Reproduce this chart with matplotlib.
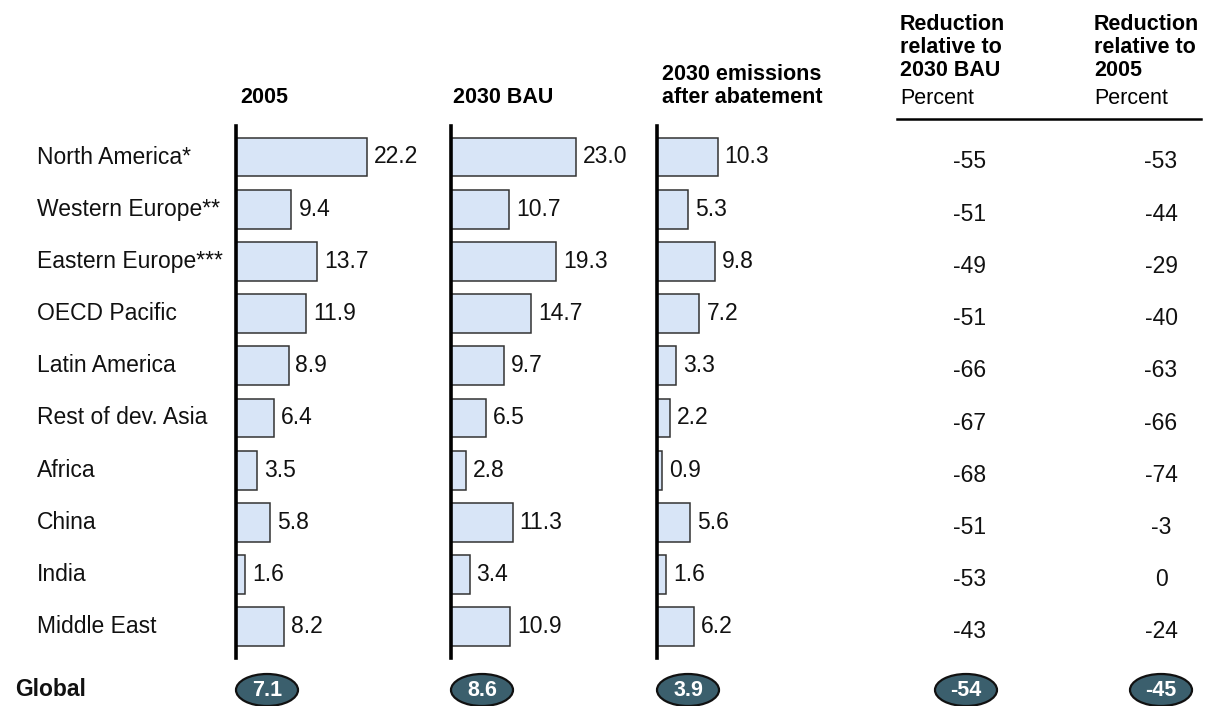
import matplotlib
matplotlib.use("Agg")
import matplotlib.pyplot as plt
from matplotlib.patches import Ellipse

plt.rcParams['font.family'] = ['Liberation Sans', 'DejaVu Sans']

# Dados por região
regioes = ["North America*", "Western Europe**", "Eastern Europe***", "OECD Pacific",
           "Latin America", "Rest of dev. Asia", "Africa", "China", "India", "Middle East"]
v2005 = [22.2, 9.4, 13.7, 11.9, 8.9, 6.4, 3.5, 5.8, 1.6, 8.2]
v2030_bau = [23.0, 10.7, 19.3, 14.7, 9.7, 6.5, 2.8, 11.3, 3.4, 10.9]
v2030_abat = [10.3, 5.3, 9.8, 7.2, 3.3, 2.2, 0.9, 5.6, 1.6, 6.2]
red_bau = [-55, -51, -49, -51, -66, -67, -68, -51, -53, -43]
red_2005 = [-53, -44, -29, -40, -63, -66, -74, -3, 0, -24]

# Valores globais
global_2005 = 7.1
global_bau = 8.6
global_abat = 3.9
global_red_bau = -54
global_red_2005 = -45

W, H = 1209, 706
fig = plt.figure(figsize=(W / 100, H / 100), dpi=100)

# eixo de fundo em pixels para textos e elipses
ax = fig.add_axes([0, 0, 1, 1])
ax.set_xlim(0, W)
ax.set_ylim(H, 0)
ax.axis('off')

y0, passo = 157, 52.2
linhas_y = [y0 + passo * i for i in range(len(regioes))]
y_global = 690
fs = 16.5

for nome, y in zip(regioes, linhas_y):
    ax.text(37, y, nome, fontsize=fs, va='center', ha='left', color='#111')
ax.text(15, y_global, "Global", fontsize=fs, fontweight='bold', va='center', color='#111')

# cabeçalhos
fh = 15.5
ax.text(240, 103, "2005", fontsize=fh, fontweight='bold', va='baseline')
ax.text(453, 103, "2030 BAU", fontsize=fh, fontweight='bold', va='baseline')
ax.text(662, 103, "2030 emissions\nafter abatement", fontsize=fh, fontweight='bold',
        va='baseline', linespacing=1.12)
for x0, txt in [(900, "Reduction\nrelative to\n2030 BAU"), (1094, "Reduction\nrelative to\n2005")]:
    ax.text(x0, 76, txt, fontsize=fh, fontweight='bold', va='baseline', linespacing=1.12)
    ax.text(x0, 104, "Percent", fontsize=fh, va='baseline')
ax.plot([897, 1201], [119, 119], color='black', lw=1.8)


def painel(esq, escala, valores):
    largura = 190
    topo = y0 - 0.6 * passo
    base = linhas_y[-1] + 0.6 * passo
    a = fig.add_axes([esq / W, 1 - base / H, largura / W, (base - topo) / H])
    pos = list(range(len(valores)))
    a.barh(pos, valores, height=0.74, color='#d8e5f7', edgecolor='#333', linewidth=1.1)
    for p, v in zip(pos, valores):
        a.annotate(f"{v:.1f}", (v, p), xytext=(5, 0), textcoords='offset points',
                   va='center', ha='left', fontsize=fs, color='#111')
    a.set_xlim(0, largura / escala)
    a.set_ylim(len(valores) - 0.4, -0.6)
    for s in ['top', 'right', 'bottom']:
        a.spines[s].set_visible(False)
    a.spines['left'].set_linewidth(2.6)
    a.set_xticks([])
    a.set_yticks([])
    a.patch.set_alpha(0)
    return a


painel(236, 5.9, v2005)
painel(451, 5.45, v2030_bau)
painel(657, 5.9, v2030_abat)

# colunas de redução
for x, valores in [(970, red_bau), (1161, red_2005)]:
    for v, y in zip(valores, linhas_y):
        ax.text(x, y + 5, f"{v}", fontsize=fs, ha='center', va='center', color='#111')


def oval(x, texto):
    ax.add_patch(Ellipse((x, y_global), 62, 32, facecolor='#3b5f6d', edgecolor='#111', lw=1.6))
    ax.text(x, y_global + 1, texto, fontsize=15.5, fontweight='bold', color='white',
            ha='center', va='center')


oval(267, f"{global_2005}")
oval(482, f"{global_bau}")
oval(688, f"{global_abat}")
oval(966, f"{global_red_bau}")
oval(1161, f"{global_red_2005}")

fig.savefig("out.png", dpi=100)
